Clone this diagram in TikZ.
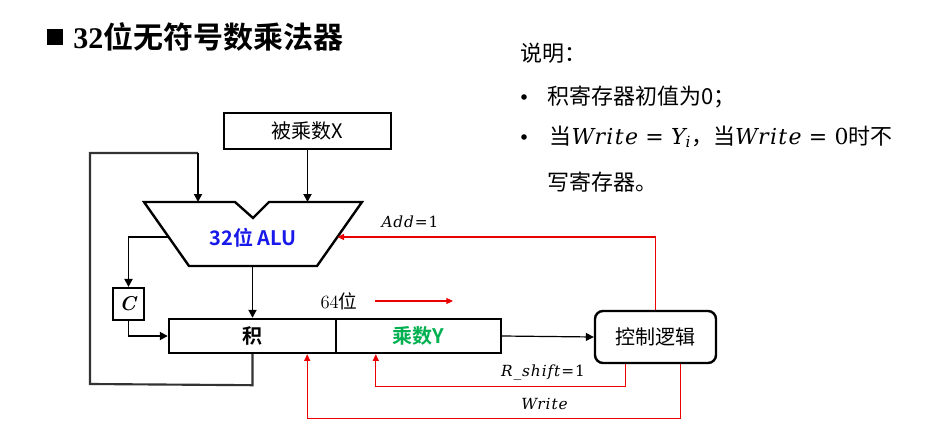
\documentclass[tikz,border=0pt]{standalone}
\usepackage{fontspec}
\newfontfamily\cjk[BoldFont={Noto Sans CJK SC Bold}]{Noto Sans CJK SC}
\newfontfamily\titleserif{Liberation Serif}
\newfontfamily\lmr{Latin Modern Roman}
\newfontfamily\mvar[LetterSpace=6]{DejaVu Serif}
\usetikzlibrary{arrows.meta,calc}
\definecolor{aluBlue}{RGB}{25,25,235}
\definecolor{yGreen}{RGB}{0,176,80}
\definecolor{sigRed}{RGB}{235,0,0}
\newcommand\var[1]{{\mvar\itshape #1}}
\begin{document}
\begin{tikzpicture}[x=0.75pt,y=-0.75pt,
  box/.style={draw,line width=1.8pt,inner sep=0pt,font=\cjk\fontsize{15}{18}\selectfont},
  wire/.style={line width=1.4pt,-{Triangle[length=6pt,width=6pt]}},
  loopwire/.style={line width=1.6pt,draw=black!80},
  thinwire/.style={line width=0.9pt,-{Triangle[length=6pt,width=6pt]}},
  sig/.style={draw=sigRed,line width=0.8pt,-{Triangle[length=5pt,width=4.5pt]}},
  siglabel/.style={font=\mvar\fontsize{11.5}{14}\selectfont},
  note/.style={anchor=west,font=\cjk\fontsize{16.5}{20}\selectfont},
  dot/.style={circle,fill=black,inner sep=0pt,minimum size=4.2pt}]
\useasboundingbox (0,0) rectangle (936,446);

% heading
\node[fill=black,minimum size=12pt,inner sep=0pt] (sq) at (55,37) {};
\node[anchor=west,inner sep=0pt] (title) at (73,37)
  {\fontsize{22.5}{26}\selectfont\bfseries\titleserif 32\cjk 位无符号数乘法器};

% notes
\node[note] (n0) at (516,53) {说明：};
\node[dot] (b1) at (524,97) {};
\node[note] (n1) at (543,97) {积寄存器初值为0；};
\node[dot] (b2) at (524,137) {};
\node[note] (n2) at (545,137)
  {当\var{Write}\,\,{\mvar =}\,\,\var{Y}\textsubscript{\var{i}}，当\var{Write}\,\,{\mvar =\,\,0}时不};
\node[note] (n3) at (543,182) {写寄存器。};

% multiplicand register
\node[box,minimum width=125.25pt,minimum height=27pt] (X) at (307.5,131) {被乘数X};

% ALU outline
\draw[line width=1.8pt,line join=miter]
  (144,202) -- (235,202) -- (253,218) -- (269,202) -- (362,202)
  -- (317,266) -- (189,266) -- cycle;
\node[font=\cjk\fontsize{15}{18}\selectfont\bfseries,text=aluBlue] (alu) at (253,238) {32位 ALU};
\coordinate (aluInA) at (198,202);
\coordinate (aluInB) at (307.5,202);
\coordinate (aluOut) at (252.5,266);
\coordinate (aluCarry) at (168.6,237);
\coordinate (aluCtl) at (337.4,237);

% carry flip-flop
\node[box,line width=1.6pt,minimum width=23.25pt,minimum height=24pt,
  font=\lmr\fontsize{15}{18}\selectfont] (C) at (128.5,304) {\textbf{\textit{C}}};

% product / multiplier register
\node[box,minimum width=125.25pt,minimum height=25.5pt,font=\cjk\fontsize{15}{18}\selectfont\bfseries] (prod) at (252.5,336) {积};
\node[box,minimum width=123.75pt,minimum height=25.5pt,font=\cjk\fontsize{15}{18}\selectfont\bfseries,text=yGreen] (mulY) at (418.5,336) {乘数Y};

% control unit
\node[box,rounded corners=6pt,minimum width=90.75pt,minimum height=39pt] (ctrl) at (655.5,337) {控制逻辑};

% data paths
\draw[wire] (X.south) -- (aluInB);
\draw[wire] (aluOut) -- (prod.north);
\draw[wire] (aluCarry) -| (C.north);
\draw[wire] (C.south) |- (prod.west);
\draw[loopwire] (prod.south) -- ++(0,31) -- (90,384) -- (90,153) -- (198,153);
\draw[wire] (198,153) -- (aluInA);
\draw[thinwire] (mulY.east) -- (ctrl.west);

% shift direction
\node[inner sep=0pt,font=\lmr\fontsize{14}{17}\selectfont] (w64) at (339,301) {64\cjk 位};
\coordinate (shA) at (375,301);
\coordinate (shB) at (453,301);
\draw[sig] (shA) -- (shB);

% control signals
\draw[sig] (ctrl.north) |- (aluCtl);
\node[siglabel] (addL) at (410,222) {\textit{Add}=1};
\draw[sig] ($(ctrl.south west)+(32,0)$) -- ++(0,22) -| ($(mulY.south west)+(41,0)$);
\node[siglabel] (rsL) at (543,372) {\textit{R\_shift}=1};
\draw[sig] ($(ctrl.south west)+(87,0)$) -- ++(0,54) -| ($(prod.south east)+(-30,0)$);
\node[siglabel] (wrL) at (545,404) {\textit{Write}};
\end{tikzpicture}
\end{document}
